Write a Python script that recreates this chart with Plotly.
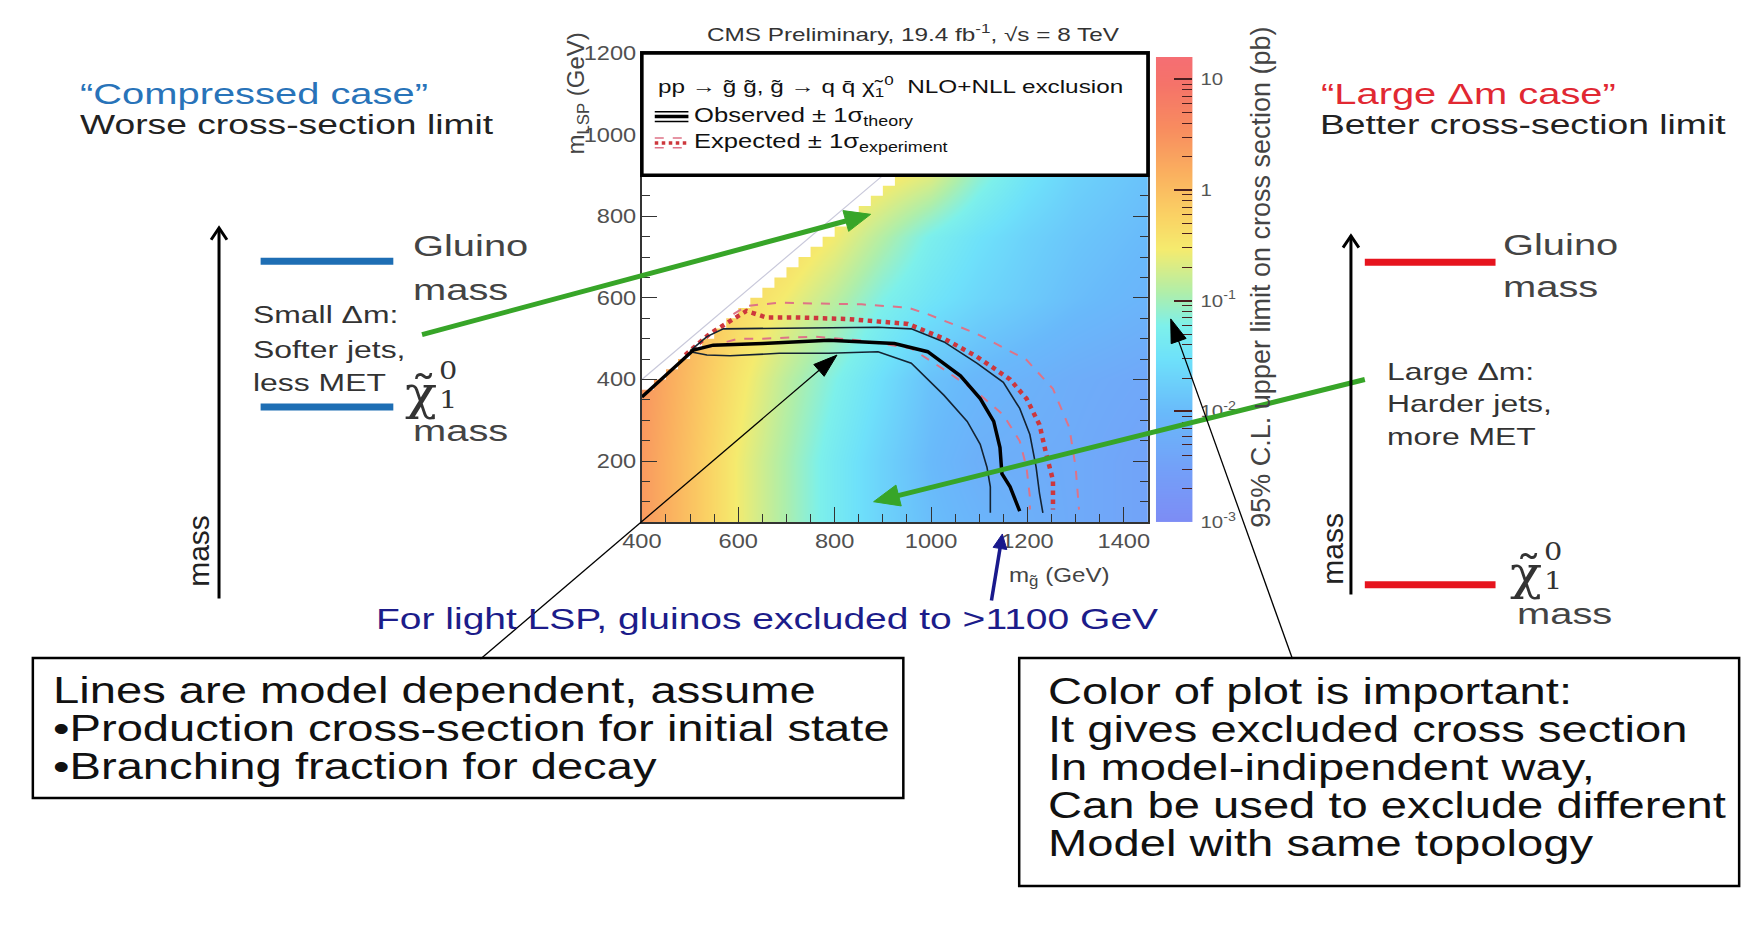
import numpy as np
import plotly.graph_objects as go

W, H = 1754, 934

# ---------------- data ----------------
# heat map: log10 of the 95% CL upper limit on the cross section (pb), read at grid nodes
mgl_nodes = [400, 500, 600, 700, 800, 900, 1000, 1100, 1200, 1300, 1450]
mlsp_nodes = [50, 200, 400, 600, 750, 900, 1200]
log_limit = [
    [0.40, -0.05, -0.55, -0.95, -1.35, -1.70, -1.95, -2.10, -2.20, -2.30, -2.45],
    [0.40, -0.05, -0.55, -0.95, -1.35, -1.70, -2.00, -2.20, -2.25, -2.30, -2.45],
    [0.45, 0.00, -0.45, -0.85, -1.20, -1.55, -1.90, -2.05, -2.15, -2.25, -2.35],
    [0.50, 0.10, -0.30, -0.55, -0.85, -1.20, -1.45, -1.65, -1.80, -1.95, -2.10],
    [0.50, 0.15, -0.20, -0.30, -0.55, -0.90, -1.25, -1.50, -1.70, -1.85, -2.00],
    [0.50, 0.20, -0.10, -0.20, -0.30, -0.45, -0.65, -1.10, -1.45, -1.70, -1.90],
    [0.50, 0.20, -0.10, -0.20, -0.30, -0.45, -0.65, -1.10, -1.45, -1.70, -1.90],
]

# kinematic limit: 25 GeV bins, m_LSP <= m_gluino - 25
kin_bin = 25
kin_gap = 25
kin_start, kin_stop = 400, 950
diag_x = [400, 905]

# exclusion contours (m_gluino, m_LSP) in GeV
obs_x = [400, 450, 507, 548, 651, 788, 924, 993, 1061, 1102, 1130, 1143, 1147, 1164, 1184]
obs_y = [357, 410, 472, 484, 488, 496, 488, 468, 409, 353, 297, 233, 169, 137, 77]
obs_up_x = [500, 535, 569, 719, 890, 959, 1027, 1095, 1150, 1184, 1205, 1218, 1225, 1232]
obs_up_y = [470, 505, 524, 526, 528, 524, 492, 440, 393, 329, 265, 185, 121, 73]
obs_dn_x = [500, 535, 583, 685, 788, 890, 959, 1027, 1075, 1102, 1116, 1123, 1123]
obs_dn_y = [468, 460, 458, 464, 464, 468, 440, 361, 297, 241, 185, 137, 73]
exp_x = [490, 541, 617, 658, 719, 829, 952, 1027, 1095, 1164, 1198, 1225, 1239, 1253, 1253]
exp_y = [460, 512, 568, 552, 552, 548, 536, 500, 456, 400, 353, 289, 217, 153, 81]
exp_dn_x = [540, 600, 651, 760, 860, 959, 1027, 1095, 1150, 1184, 1198, 1205, 1205]
exp_dn_y = [480, 500, 500, 505, 495, 476, 424, 369, 313, 249, 185, 113, 81]
exp_up_x = [590, 617, 685, 856, 952, 993, 1095, 1198, 1253, 1287, 1300, 1307]
exp_up_y = [560, 580, 588, 584, 576, 560, 512, 448, 377, 281, 185, 81]

x_ticks = [400, 600, 800, 1000, 1200, 1400]
y_ticks = [200, 400, 600, 800, 1000, 1200]
cbar_levels = [-3, -2, -1, 0, 1, 1.2]            # colour-bar gradient nodes (log10 pb)
cbar_vals = [-3, -2, -1, 0, 1]
cbar_text = ["10<sup>-3</sup>", "10<sup>-2</sup>", "10<sup>-1</sup>", "1", "10"]
cbar_minor = [2, 3, 4, 5, 6, 7, 8, 9]
Z_MIN, Z_MAX = -3, 1.2

# ---------------- helpers ----------------
def X(p):
    return p / W

def Y(p):
    return 1 - p / H

def fam(base, k=None):
    # the slide was stretched horizontally; 'sxNNN' marks a text to be widened by NNN %
    return base if k is None else base + ", sx%d" % int(round(k * 100))

LIB = "Liberation Sans, Arial, sans-serif"
SERIF = "DejaVu Serif, Liberation Serif, serif"

colorscale = [
    [0.0000, "rgb(125,140,245)"],
    [0.1176, "rgb(115,160,248)"],
    [0.2353, "rgb(105,185,250)"],
    [0.3529, "rgb(110,225,250)"],
    [0.4235, "rgb(125,240,235)"],
    [0.4941, "rgb(175,238,170)"],
    [0.5882, "rgb(245,235,110)"],
    [0.6588, "rgb(250,210,100)"],
    [0.7529, "rgb(250,175,95)"],
    [0.8471, "rgb(248,140,95)"],
    [0.9412, "rgb(245,115,105)"],
    [1.0000, "rgb(245,110,115)"],
]

PX0, PX1, PY0, PY1 = 631, 1142, 43, 523       # plot frame (pixels)
CB0, CB1, CBT = 1150, 1187, 47                # colour bar (pixels)

fig = go.Figure()
fig.add_trace(go.Heatmap(
    x=mgl_nodes, y=mlsp_nodes, z=log_limit, zsmooth="best",
    zmin=Z_MIN, zmax=Z_MAX, colorscale=colorscale, showscale=False, hoverinfo="skip",
))

# white mask above the kinematic limit (staircase of 25 GeV bins)
edges = np.arange(kin_start, kin_stop, kin_bin)
mx, my = [390], [edges[0] - kin_gap]
for e in edges:
    mx += [e, e + kin_bin]
    my += [e - kin_gap, e - kin_gap]
mx += [edges[-1] + kin_bin, 390]
my += [1210, 1210]
fig.add_trace(go.Scatter(x=mx, y=my, fill="toself", fillcolor="white", mode="lines",
                         line=dict(width=0, color="white"), hoverinfo="skip"))
fig.add_trace(go.Scatter(x=diag_x, y=diag_x, mode="lines",
                         line=dict(color="rgb(200,200,218)", width=1.2), hoverinfo="skip"))

RED = "rgb(205,55,60)"
PINK = "rgb(222,115,135)"
DARK = "rgb(20,35,50)"
fig.add_trace(go.Scatter(x=exp_up_x, y=exp_up_y, mode="lines", line=dict(color=PINK, width=2, dash="dash")))
fig.add_trace(go.Scatter(x=exp_dn_x, y=exp_dn_y, mode="lines", line=dict(color=PINK, width=2, dash="dash")))
fig.add_trace(go.Scatter(x=exp_x, y=exp_y, mode="lines", line=dict(color=RED, width=4.5, dash="dot")))
fig.add_trace(go.Scatter(x=obs_up_x, y=obs_up_y, mode="lines", line=dict(color=DARK, width=1.6)))
fig.add_trace(go.Scatter(x=obs_dn_x, y=obs_dn_y, mode="lines", line=dict(color=DARK, width=1.6)))
fig.add_trace(go.Scatter(x=obs_x, y=obs_y, mode="lines", line=dict(color="black", width=3.5)))

# colour bar drawn as its own small heat map with a log-labelled axis
fig.add_trace(go.Heatmap(
    x=[0.25, 0.75], y=cbar_levels, z=[[v, v] for v in cbar_levels], zsmooth="best",
    zmin=Z_MIN, zmax=Z_MAX, colorscale=colorscale, showscale=False, hoverinfo="skip",
    xaxis="x2", yaxis="y2",
))

axis_common = dict(
    ticks="inside", ticklen=15, tickwidth=1.3, tickcolor="#333",
    showline=True, linecolor="#333", linewidth=1.5, mirror="ticks",
    showgrid=False, zeroline=False,
    tickfont=dict(family=fam(LIB, 1.18), size=20, color="#505050"),
)
fig.update_layout(
    xaxis=dict(range=[400, 1450], domain=[X(PX0), X(PX1)], tickvals=x_ticks,
               minor=dict(ticks="inside", ticklen=8, dtick=50, tick0=400, tickcolor="#333"),
               **axis_common),
    yaxis=dict(range=[50, 1200], domain=[Y(PY1), Y(PY0)], tickvals=y_ticks,
               minor=dict(ticks="inside", ticklen=8, dtick=50, tick0=0, tickcolor="#333"),
               **axis_common),
    xaxis2=dict(range=[0, 1], domain=[X(CB0), X(CB1)], anchor="y2", visible=False),
    yaxis2=dict(range=[Z_MIN, Z_MAX], domain=[Y(PY1), Y(CBT)], anchor="x2", side="right",
                tickvals=cbar_vals, ticktext=cbar_text, ticks="inside", ticklen=18,
                tickwidth=1.5, tickcolor="#4a2020", showline=False, showgrid=False,
                zeroline=False, ticklabelstandoff=7,
                minor=dict(ticks="inside", ticklen=10, tickwidth=1.2, tickcolor="#4a2020",
                           tickvals=[d + np.log10(m) for d in range(-3, 2) for m in cbar_minor
                                     if d + np.log10(m) < Z_MAX]),
                tickfont=dict(family=fam(LIB, 1.2), size=17, color="#555")),
)

shapes = []

def seg(x0, y0, x1, y1, color, width, dash=None, layer="above"):
    ln = dict(color=color, width=width)
    if dash:
        ln["dash"] = dash
    shapes.append(dict(type="line", xref="paper", yref="paper", x0=X(x0), y0=Y(y0),
                       x1=X(x1), y1=Y(y1), line=ln, layer=layer))

def arrow(sx, sy, tx, ty, color, width, head_len, head_hw, open_head=False):
    d = np.array([tx - sx, ty - sy], float)
    u = d / np.hypot(*d)
    n = np.array([-u[1], u[0]])
    base = np.array([tx, ty]) - head_len * u
    a = base + head_hw * n
    b = base - head_hw * n
    if open_head:
        seg(sx, sy, tx, ty, color, width)
        path = "M%f,%f L%f,%f L%f,%f" % (X(a[0]), Y(a[1]), X(tx), Y(ty), X(b[0]), Y(b[1]))
        shapes.append(dict(type="path", xref="paper", yref="paper", path=path,
                           line=dict(color=color, width=width), layer="above"))
    else:
        seg(sx, sy, base[0] + 0.3 * head_len * u[0], base[1] + 0.3 * head_len * u[1], color, width)
        path = "M%f,%f L%f,%f L%f,%f Z" % (X(a[0]), Y(a[1]), X(tx), Y(ty), X(b[0]), Y(b[1]))
        shapes.append(dict(type="path", xref="paper", yref="paper", path=path,
                           fillcolor=color, line=dict(color=color, width=1), layer="above"))

# legend box inside the frame
shapes.append(dict(type="rect", xref="paper", yref="paper", x0=X(PX0), x1=X(PX1),
                   y0=Y(168), y1=Y(PY0), fillcolor="white",
                   line=dict(color="black", width=3.5), layer="above"))
for yy, w in [(103, 1.5), (108, 3.5), (113, 1.5)]:
    seg(644, yy, 678, yy, "black", w)
for yy, w, c, d in [(130, 1.5, PINK, "dash"), (135, 3.5, RED, "dot"), (140, 1.5, PINK, "dash")]:
    seg(644, yy, 678, yy, c, w, d)

# energy-level bars
for yy in [256, 405]:
    seg(246, yy, 380, yy, "rgb(30,110,180)", 7, layer="below")
for yy in [257, 587]:
    seg(1361, yy, 1493, yy, "rgb(230,20,30)", 7, layer="below")

# text boxes
shapes.append(dict(type="rect", xref="paper", yref="paper", x0=X(16), x1=X(895),
                   y0=Y(805), y1=Y(662), line=dict(color="black", width=2.5)))
shapes.append(dict(type="rect", xref="paper", yref="paper", x0=X(1012), x1=X(1739),
                   y0=Y(895), y1=Y(662), line=dict(color="black", width=2.5)))

# arrows
GREEN = "rgb(55,165,40)"
arrow(409, 331, 862, 208, GREEN, 5, 26, 11)
arrow(1361, 377, 865, 502, GREEN, 5, 26, 11)
arrow(468, 663, 828, 352, "black", 1.3, 24, 8)
arrow(1288, 663, 1165, 315, "black", 1.3, 24, 8)
arrow(984, 603, 995, 535, "rgb(25,25,140)", 3.5, 15, 7)
arrow(204, 601, 204, 222, "black", 3, 12, 8, open_head=True)
arrow(1347, 597, 1347, 230, "black", 3, 12, 8, open_head=True)

ann = []

def txt(x, y, s, size, color="#222", family=LIB, k=None, xanchor="left", angle=0):
    ann.append(dict(x=X(x), y=Y(y), xref="paper", yref="paper", text=s, showarrow=False,
                    xanchor=xanchor, yanchor="middle", textangle=angle,
                    align="left" if xanchor == "left" else "center",
                    font=dict(family=fam(family, k), size=size, color=color)))

# plot texts
txt(905, 22, "CMS Preliminary, 19.4 fb<sup>-1</sup>, √s = 8 TeV", 19, "#333", k=1.28, xanchor="center")
txt(566, 85, "m<sub>LSP</sub> (GeV)", 24, "#444", xanchor="center", angle=-90)
txt(1000, 578, "m<sub>g̃</sub> (GeV)", 21, "#444", k=1.15)
txt(645, 77, "pp → g̃ g̃, g̃ → q q̄ χ̃<sub>1</sub><sup>0</sup>  NLO+NLL exclusion", 19, "#111", k=1.28)
txt(682, 108, "Observed ± 1σ<sub>theory</sub>", 20, "#111", k=1.28)
txt(682, 135, "Expected ± 1σ<sub>experiment</sub>", 20, "#111", k=1.28)
txt(1256, 272, "95% C.L. upper limit on cross section (pb)", 27, "#444", xanchor="center", angle=-90)

# left panel
txt(62, 84, "“Compressed case”", 30, "rgb(40,115,185)", k=1.33)
txt(62, 116, "Worse cross-section limit", 28, "#222", k=1.33)
txt(398, 240, "Gluino", 30, "#444", k=1.33)
txt(398, 285, "mass", 30, "#444", k=1.33)
txt(236, 310, "Small Δm:", 24, "#333", k=1.33)
txt(236, 346, "Softer jets,", 24, "#333", k=1.33)
txt(236, 380, "less MET", 24, "#333", k=1.33)
txt(390, 391, "χ̃", 46, "#333", family=SERIF, k=1.15)
txt(424, 368, "0", 24, "#333", family=SERIF, k=1.2)
txt(424, 398, "1", 24, "#333", family=SERIF, k=1.2)
txt(398, 429, "mass", 30, "#444", k=1.33)
txt(183, 552, "mass", 30, "#222", xanchor="center", angle=-90)

# right panel
txt(1315, 84, "“Large Δm case”", 30, "rgb(225,40,50)", k=1.33)
txt(1314, 116, "Better cross-section limit", 28, "#222", k=1.33)
txt(1499, 239, "Gluino", 30, "#444", k=1.33)
txt(1499, 282, "mass", 30, "#444", k=1.33)
txt(1381, 369, "Large Δm:", 24, "#333", k=1.33)
txt(1381, 402, "Harder jets,", 24, "#333", k=1.33)
txt(1381, 435, "more MET", 24, "#333", k=1.33)
txt(1506, 575, "χ̃", 46, "#333", family=SERIF, k=1.15)
txt(1540, 553, "0", 24, "#333", family=SERIF, k=1.2)
txt(1540, 583, "1", 24, "#333", family=SERIF, k=1.2)
txt(1513, 616, "mass", 30, "#444", k=1.33)
txt(1329, 550, "mass", 30, "#222", xanchor="center", angle=-90)

# bottom texts
txt(360, 621, "For light LSP, gluinos excluded to >1100 GeV", 30, "rgb(28,28,138)", k=1.3)
for yy, s in [(695, "Lines are model dependent, assume"),
              (734, "•Production cross-section for initial state"),
              (773, "•Branching fraction for decay")]:
    txt(34, yy, s, 36, "#111", k=1.31)
for yy, s in [(696, "Color of plot is important:"),
              (735, "It gives excluded cross section"),
              (774, "In model-indipendent way,"),
              (813, "Can be used to exclude different"),
              (852, "Model with same topology")]:
    txt(1039, yy, s, 36, "#111", k=1.31)

fig.update_layout(width=W, height=H, margin=dict(l=0, r=0, t=0, b=0),
                  paper_bgcolor="white", plot_bgcolor="white", showlegend=False,
                  shapes=shapes, annotations=ann)

POST = """
document.body.style.margin = '0';
var gd = document.getElementById('{plot_id}');
gd.querySelectorAll('text').forEach(function (t) {
  var ff = t.style.fontFamily || '';
  var m = ff.match(/sx(\\d+)/);
  if (!m || t.getAttribute('data-sx')) { return; }
  var k = parseInt(m[1], 10) / 100;
  var bb = t.getBBox();
  var anc = t.getAttribute('text-anchor') || 'start';
  var ax = anc === 'middle' ? bb.x + bb.width / 2 : (anc === 'end' ? bb.x + bb.width : bb.x);
  var tr = t.getAttribute('transform') || '';
  t.setAttribute('transform', tr + ' translate(' + ax + ',0) scale(' + k + ',1) translate(' + (-ax) + ',0)');
  t.setAttribute('data-sx', '1');
});
"""

fig.write_html("out.html", post_script=POST, config={"displayModeBar": False})
